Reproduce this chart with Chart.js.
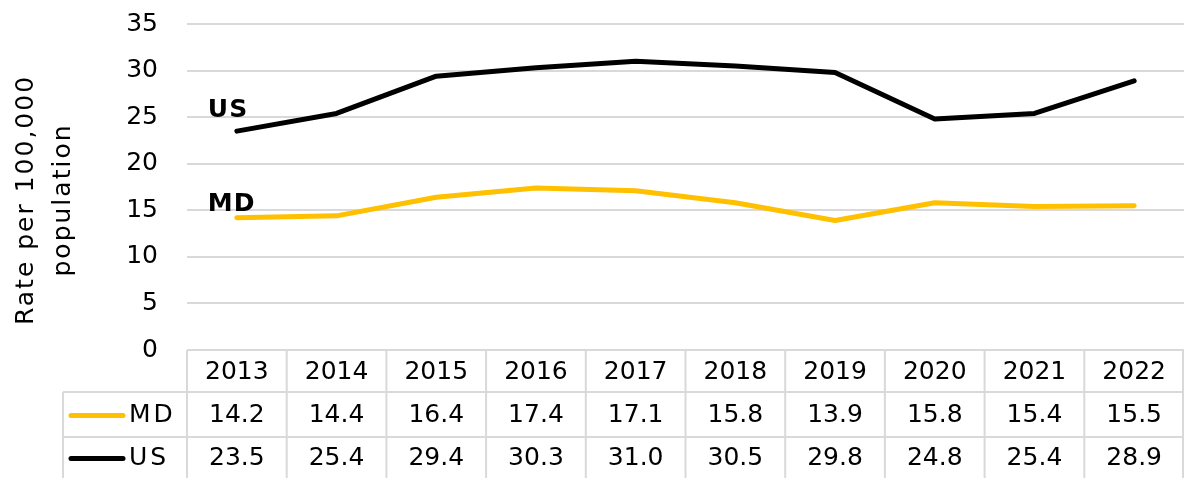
<!DOCTYPE html>
<html>
<head>
<meta charset="utf-8">
<script src="https://cdn.jsdelivr.net/npm/chart.js@4"></script>
<style>
  html, body { margin: 0; padding: 0; background: #fff; }
  #wrap { width: 1184px; height: 478px; }
</style>
</head>
<body>
<div id="wrap"><canvas id="chart"></canvas></div>
<script>
const years = ['2013', '2014', '2015', '2016', '2017', '2018', '2019', '2020', '2021', '2022'];
const mdRates = [14.2, 14.4, 16.4, 17.4, 17.1, 15.8, 13.9, 15.8, 15.4, 15.5];
const usRates = [23.5, 25.4, 29.4, 30.3, 31.0, 30.5, 29.8, 24.8, 25.4, 28.9];
const yTicks = [0, 5, 10, 15, 20, 25, 30, 35];
const yTitle = ['Rate per 100,000', 'population'];

const FONT = "'DejaVu Sans', sans-serif";
const GRID = '#d9d9d9';

// y title, data table under the plot, and bold series names by the first points
const tablePlugin = {
  id: 'dataTable',
  afterDraw(chart) {
    const ctx = chart.ctx;
    const x = chart.scales.x;
    const area = chart.chartArea;
    const cellW = (area.right - area.left) / years.length;
    const top = area.bottom;
    const rows = [top, top + 42, top + 87, chart.height];
    const legendLeft = 63;

    ctx.save();
    ctx.fillStyle = '#000';

    // rotated axis title
    ctx.save();
    ctx.translate(0, 200);
    ctx.rotate(-Math.PI / 2);
    ctx.font = '25px ' + FONT;
    ctx.letterSpacing = '2px';
    ctx.textAlign = 'center';
    ctx.textBaseline = 'alphabetic';
    ctx.fillText(yTitle[0], 0, 33);
    ctx.fillText(yTitle[1], 0, 70);
    ctx.restore();

    ctx.strokeStyle = GRID;
    ctx.lineWidth = 2;
    ctx.beginPath();
    ctx.moveTo(legendLeft, rows[1]); ctx.lineTo(area.right, rows[1]);
    ctx.moveTo(legendLeft, rows[2]); ctx.lineTo(area.right, rows[2]);
    ctx.moveTo(legendLeft, rows[1]); ctx.lineTo(legendLeft, rows[3]);
    for (let i = 0; i <= years.length; i++) {
      const px = Math.min(area.left + i * cellW, area.right - 1);
      ctx.moveTo(px, top); ctx.lineTo(px, rows[3]);
    }
    ctx.stroke();

    ctx.font = '25px ' + FONT;
    ctx.textAlign = 'center';
    ctx.textBaseline = 'middle';
    years.forEach((y, i) => {
      ctx.fillText(y, x.getPixelForValue(i), (rows[0] + rows[1]) / 2 + 1);
    });
    chart.data.datasets.forEach((ds, r) => {
      const cy = (rows[r + 1] + rows[r + 2]) / 2 + 1;
      ds.data.forEach((v, i) => {
        ctx.fillText(v.toFixed(1), x.getPixelForValue(i), cy);
      });
      // legend key
      ctx.strokeStyle = ds.borderColor;
      ctx.lineWidth = 5;
      ctx.lineCap = 'round';
      ctx.beginPath();
      ctx.moveTo(71, cy); ctx.lineTo(123, cy);
      ctx.stroke();
      ctx.save();
      ctx.textAlign = 'left';
      ctx.letterSpacing = '3px';
      ctx.fillText(ds.label, 129, cy);
      ctx.restore();

      // bold name near the start of the line
      const p = chart.getDatasetMeta(r).data[0];
      ctx.save();
      ctx.font = 'bold 25px ' + FONT;
      ctx.letterSpacing = '1px';
      ctx.textAlign = 'left';
      ctx.textBaseline = 'alphabetic';
      ctx.fillText(ds.label, p.x - 29, p.y - ds.nameOffset);
      ctx.restore();
    });
    ctx.restore();
  }
};

new Chart(document.getElementById('chart'), {
  type: 'line',
  data: {
    labels: years,
    datasets: [
      { label: 'MD', data: mdRates, borderColor: '#ffc000', nameOffset: 7 },
      { label: 'US', data: usRates, borderColor: '#000000', nameOffset: 14 }
    ]
  },
  options: {
    responsive: true,
    maintainAspectRatio: false,
    animation: false,
    layout: { padding: { top: 24, right: 0, bottom: 128, left: 0 } },
    elements: {
      line: { borderWidth: 5, tension: 0, borderCapStyle: 'round', borderJoinStyle: 'round' },
      point: { radius: 0 }
    },
    plugins: {
      legend: { display: false },
      tooltip: { enabled: false }
    },
    scales: {
      x: {
        display: false,
        offset: true
      },
      y: {
        min: 0,
        max: 35,
        afterBuildTicks: s => { s.ticks = yTicks.map(v => ({ value: v })); },
        afterFit: s => { s.width = 187; s.paddingTop = 0; s.paddingBottom = 0; },
        border: { display: false },
        grid: { color: GRID, lineWidth: 2, drawTicks: false },
        ticks: {
          color: '#000',
          padding: 29,
          font: { family: FONT, size: 25 }
        }
      }
    }
  },
  plugins: [tablePlugin]
});
</script>
</body>
</html>
